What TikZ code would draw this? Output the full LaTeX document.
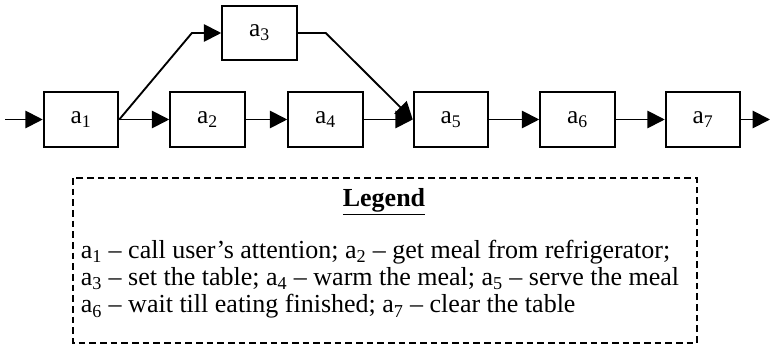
\documentclass[tikz,border=0pt]{standalone}
\usepackage{fontspec}
\setmainfont{Liberation Serif}
\usetikzlibrary{positioning,arrows.meta}

\begin{document}
\begin{tikzpicture}[x=0.75pt,y=-0.75pt,
    line width=1.4pt,
    >={Triangle[length=13pt,width=13pt]},
    act/.style={rectangle,draw,minimum width=56pt,minimum height=41pt,
        font=\fontsize{19}{22}\selectfont}]
    \useasboundingbox (0,0) rectangle (770,345);

    % Activities
    \node[act] (a1) at (81,119.5) {a\textsubscript{1}};
    \node[act] (a2) at (207.5,119.5) {a\textsubscript{2}};
    \node[act] (a3) at (259.5,33) {a\textsubscript{3}};
    \node[act] (a4) at (325.5,119.5) {a\textsubscript{4}};
    \node[act] (a5) at (451,119.5) {a\textsubscript{5}};
    \node[act] (a6) at (577.5,119.5) {a\textsubscript{6}};
    \node[act] (a7) at (703,119.5) {a\textsubscript{7}};

    % Free ends of the chain
    \coordinate (in) at (5,119.5);
    \coordinate (out) at (770,119.5);

    % Arrows
    \draw[->] (in) -- (a1);
    \draw[->] (a1) -- (a2);
    \draw[->] (a2) -- (a4);
    \draw[->] (a4) -- (a5);
    \draw[->] (a5) -- (a6);
    \draw[->] (a6) -- (a7);
    \draw[->] (a7) -- (out);
    \draw[->] (a1.east) -- ([xshift=-22pt]a3.west) -- (a3.west);
    \draw[->] (a3.east) -- ([xshift=21pt]a3.east) -- (a5.west);

    % Legend
    \draw[dashed,dash pattern=on 5pt off 3pt] (73,178) rectangle (697,343);
    \node[anchor=base,font=\fontsize{19.5}{20}\selectfont\bfseries] (title) at (384,207) {\underline{Legend}};
    \node[anchor=north west,align=left,inner sep=0pt,
        font=\fontsize{19.5}{20.5}\selectfont] (items) at (80,239)
        {a\textsubscript{1} -- call user's attention; a\textsubscript{2} -- get meal from refrigerator;\\
         a\textsubscript{3} -- set the table; a\textsubscript{4} -- warm the meal; a\textsubscript{5} -- serve the meal\\
         a\textsubscript{6} -- wait till eating finished; a\textsubscript{7} -- clear the table};
\end{tikzpicture}
\end{document}
